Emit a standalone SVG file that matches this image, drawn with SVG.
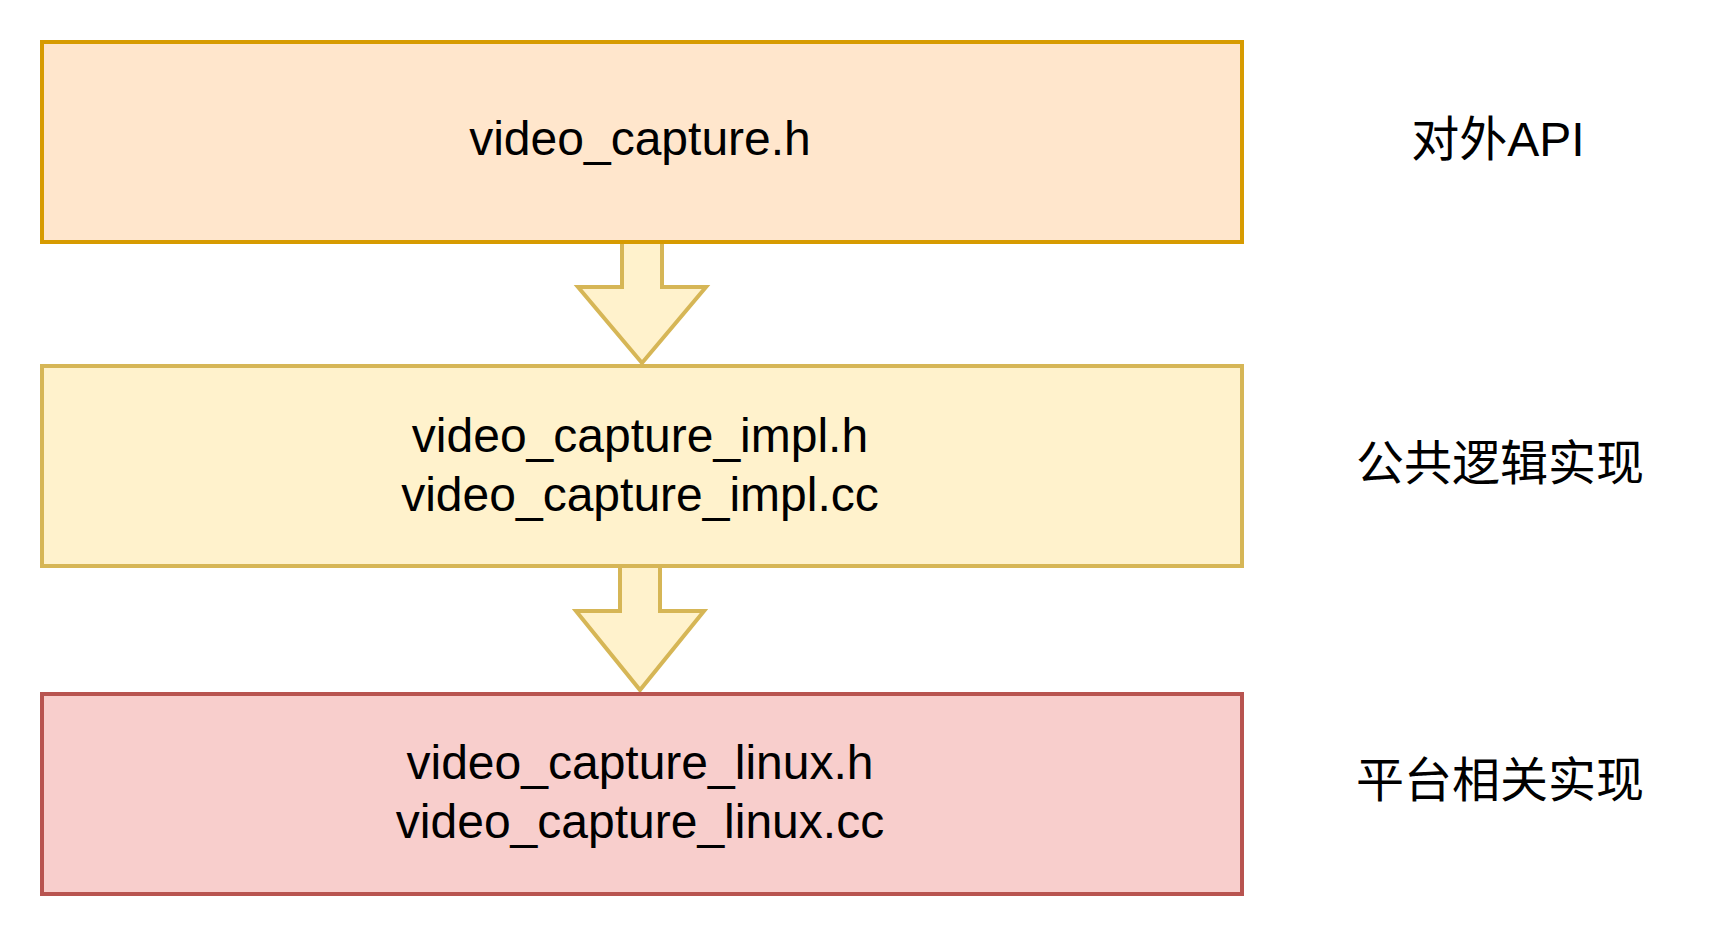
<svg xmlns="http://www.w3.org/2000/svg" width="1724" height="936" viewBox="0 0 1724 936">
<style>
.t{font-family:"Liberation Sans",Arial,sans-serif;font-size:48px;fill:#000;text-anchor:middle}
.c{font-family:"Liberation Sans","Noto Sans CJK SC",sans-serif;font-size:48px;fill:#000;text-anchor:middle}
.arr{fill:#fff2cc;stroke:#d6b656;stroke-width:4;stroke-linejoin:miter}
</style>
<rect width="1724" height="936" fill="#ffffff"/>
<g id="connectors">
<path class="arr" d="M622,242 L662,242 L662,287 L706,287 L642,363 L578,287 L622,287 Z"/>
<path class="arr" d="M620,566 L660,566 L660,611 L704,611 L640,690 L576,611 L620,611 Z"/>
</g>
<g id="node-api">
<rect x="42" y="42" width="1200" height="200" fill="#ffe6cc" stroke="#d79b00" stroke-width="4"/>
<text class="t" x="640" y="155">video_capture.h</text>
</g>
<g id="node-impl">
<rect x="42" y="366" width="1200" height="200" fill="#fff2cc" stroke="#d6b656" stroke-width="4"/>
<text class="t" x="640" y="452">video_capture_impl.h</text>
<text class="t" x="640" y="511">video_capture_impl.cc</text>
</g>
<g id="node-linux">
<rect x="42" y="694" width="1200" height="200" fill="#f8cecc" stroke="#b85450" stroke-width="4"/>
<text class="t" x="640" y="779">video_capture_linux.h</text>
<text class="t" x="640" y="838">video_capture_linux.cc</text>
</g>
<g id="label-api"><text class="c" x="1498" y="156">对外API</text></g>
<g id="label-impl"><text class="c" x="1500" y="480">公共逻辑实现</text></g>
<g id="label-linux"><text class="c" x="1500" y="797">平台相关实现</text></g>
</svg>
